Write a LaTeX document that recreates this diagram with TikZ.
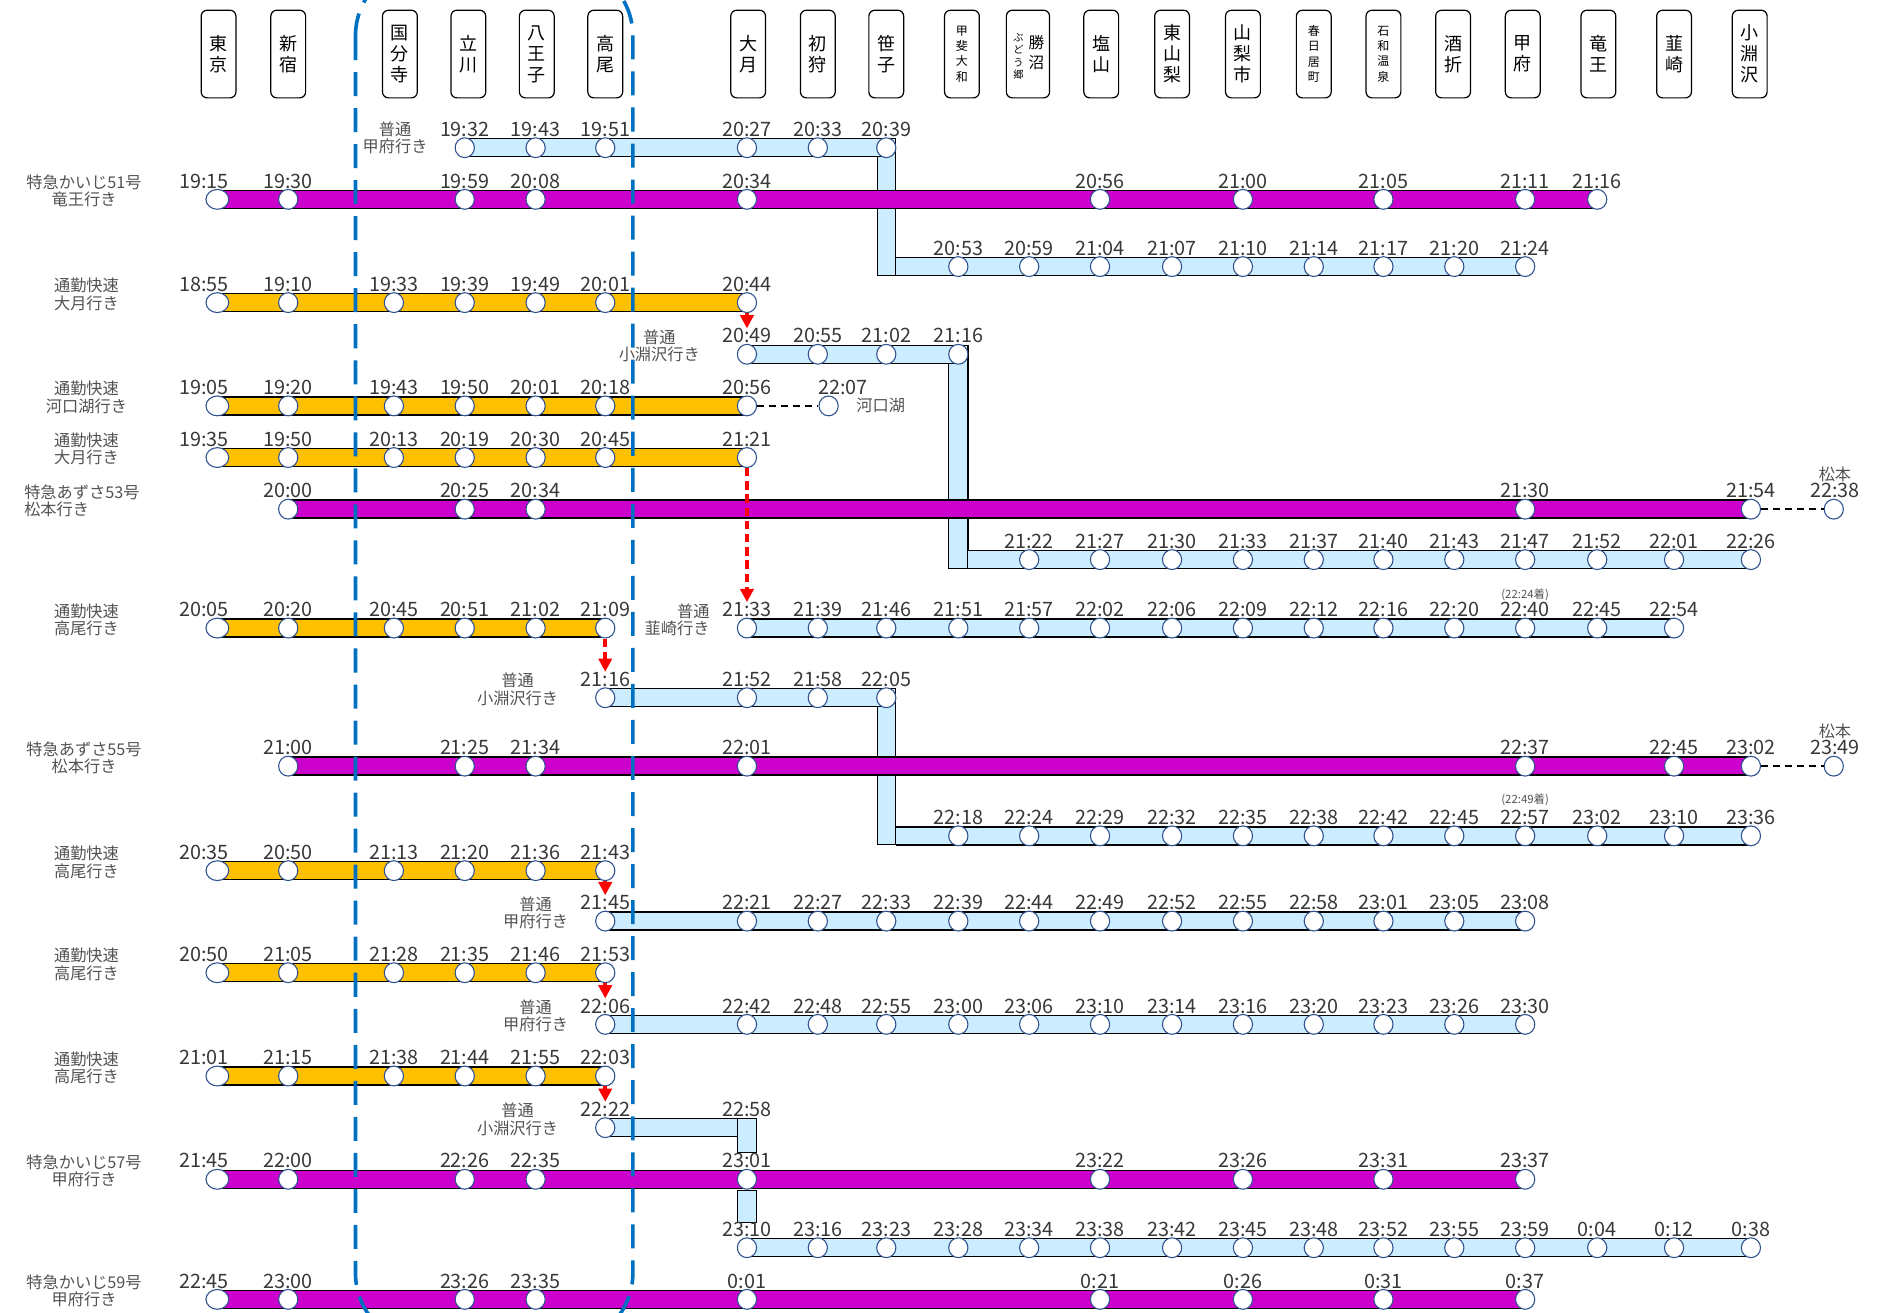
\documentclass[tikz,border=0pt]{standalone}
\usepackage{fontspec}
\setmainfont{Noto Sans CJK JP}
\usetikzlibrary{arrows.meta,shapes.geometric}

\definecolor{kaiji}{HTML}{CC00CC}
\definecolor{rapid}{HTML}{FFC000}
\definecolor{local}{HTML}{CCECFF}
\definecolor{dotline}{HTML}{2F528F}
\definecolor{zone}{HTML}{0070C0}

% one train: the bar
\newcommand\trackbar[4]{%
  \fill[#4] (#2,#1-7.5) rectangle (#3,#1+7.5);
  \draw[barline] (#2,#1-7.5) -- (#3,#1-7.5) (#2,#1+7.5) -- (#3,#1+7.5);}
% one train: the stops with their times
\newcommand\stops[3]{%
  \foreach \x/\hhmm in {#3}{%
    \ifnum\x=181 \def\lx{170}\def\dw{19pt}\else\let\lx\x\def\dw{16pt}\fi
    \node[stopdot, minimum width=\dw] (#1-\x) at (\x,#2) {};
    \node[timelbl] (#1-\x-t) at (\lx,#2-9) {\hhmm};}}

\begin{document}
\begin{tikzpicture}[x=1pt, y=-1pt, >={Triangle[length=11pt,width=11pt]},
	stopdot/.style={ellipse, draw=dotline, line width=0.9pt, fill=white, minimum width=16pt, minimum height=16.5pt, inner sep=0pt},
	timelbl/.style={anchor=south, inner sep=0pt, text=black!78, font=\fontsize{16.5}{19}\selectfont},
	trainlbl/.style={align=center, inner sep=0pt, text=black!68, font=\fontsize{13.5}{14.5}\selectfont},
	notelbl/.style={inner sep=0pt, text=black!68, font=\fontsize{9.5}{11}\selectfont},
	stnbox/.style={draw, line width=1pt, rounded corners=5pt, fill=white, minimum width=29pt, minimum height=73pt, align=center, inner sep=0pt, font=\fontsize{15}{17.5}\selectfont},
	stnsmall/.style={stnbox, font=\fontsize{10}{12.7}\selectfont},
	barline/.style={line width=1.2pt},
	xfer/.style={fill=local, draw=black, line width=1pt},
	xferarrow/.style={->, red, line width=3pt},
	throughline/.style={black, line width=1.8pt, dash pattern=on 6pt off 4pt},
	zoneline/.style={zone, line width=3pt, dash pattern=on 20pt off 10pt, rounded corners=60pt}]
	\useasboundingbox (0,0) rectangle (1568,1093);
	\clip (0,0) rectangle (1568,1093);

	% stations
	\foreach \x/\n/\s in {182/tokyo/東\\京, 240/shinjuku/新\\宿, 333/kokubunji/国\\分\\寺, 390/tachikawa/立\\川,
		447/hachioji/八\\王\\子, 504/takao/高\\尾, 623/otsuki/大\\月, 681/hatsukari/初\\狩, 738/sasago/笹\\子,
		917/enzan/塩\\山, 976/higashiyamanashi/東\\山\\梨, 1035/yamanashishi/山\\梨\\市, 1210/sakaori/酒\\折,
		1268/kofu/甲\\府, 1331/ryuo/竜\\王, 1394/nirasaki/韮\\崎, 1457/kobuchizawa/小\\淵\\沢}
		\node[stnbox] (\n) at (\x,45) {\s};
	\foreach \x/\n/\s in {801/kaiyamato/甲\\斐\\大\\和, 1094/kasugaicho/春\\日\\居\\町, 1152/isawaonsen/石\\和\\温\\泉}
		\node[stnsmall] (\n) at (\x,45) {\s};
	\node[stnbox, minimum width=36pt] (katsunuma) at (856,45) {};
	\node[align=center, inner sep=0pt, font=\fontsize{13}{16.5}\selectfont] (katsunuma-a) at (863,44) {勝\\沼};
	\node[align=center, inner sep=0pt, font=\fontsize{8.5}{10.5}\selectfont] (katsunuma-b) at (848,47) {ぶ\\ど\\う\\郷};

	% transfer links
	\draw[xfer] (731,115.5) rectangle (746,229.5);
	\draw[xfer] (790,287.5) rectangle (806,473.5);
	\draw[xfer] (731,573.5) rectangle (746,703.5);

	% bars
	\trackbar{123}{387}{738}{local}
	\trackbar{222}{746}{1270}{local}
	\trackbar{252}{181}{622}{rapid}
	\trackbar{295}{622}{798}{local}
	\trackbar{338}{181}{622}{rapid}
	\trackbar{381}{181}{622}{rapid}
	\trackbar{466}{806}{1458}{local}
	\trackbar{523}{181}{504}{rapid}
	\trackbar{523}{622}{1394}{local}
	\trackbar{581}{504}{738}{local}
	\trackbar{696}{746}{1458}{local}
	\trackbar{725}{181}{504}{rapid}
	\trackbar{767}{504}{1270}{local}
	\trackbar{810}{181}{504}{rapid}
	\trackbar{853}{504}{1270}{local}
	\trackbar{896}{181}{504}{rapid}
	\trackbar{939}{504}{614}{local}
	\draw[xfer] (614,931.5) rectangle (630,960);
	\draw[xfer] (614,991) rectangle (630,1018);
	\trackbar{1039}{622}{1458}{local}
	\trackbar{166}{181}{1330}{kaiji}
	\trackbar{424}{240}{1458}{kaiji}
	\trackbar{638}{240}{1458}{kaiji}
	\trackbar{982}{181}{1270}{kaiji}
	\trackbar{1082}{181}{1270}{kaiji}

	\draw[zoneline] (296,-30) rectangle (527,1120);

	% stops
	\stops{loc1}{123}{387/19:32, 446/19:43, 504/19:51, 622/20:27, 681/20:33, 738/20:39}
	\stops{loc1b}{222}{798/20:53, 857/20:59, 916/21:04, 976/21:07, 1035/21:10, 1094/21:14, 1152/21:17, 1211/21:20, 1270/21:24}
	\stops{k51}{166}{181/19:15, 240/19:30, 387/19:59, 446/20:08, 622/20:34, 916/20:56, 1035/21:00, 1152/21:05, 1270/21:11, 1330/21:16}
	\stops{com1}{252}{181/18:55, 240/19:10, 328/19:33, 387/19:39, 446/19:49, 504/20:01, 622/20:44}
	\stops{loc2}{295}{622/20:49, 681/20:55, 738/21:02, 798/21:16}
	\stops{loc2b}{466}{857/21:22, 916/21:27, 976/21:30, 1035/21:33, 1094/21:37, 1152/21:40, 1211/21:43, 1270/21:47, 1330/21:52, 1394/22:01, 1458/22:26}
	\stops{com2}{338}{181/19:05, 240/19:20, 328/19:43, 387/19:50, 446/20:01, 504/20:18, 622/20:56}
	\stops{com3}{381}{181/19:35, 240/19:50, 328/20:13, 387/20:19, 446/20:30, 504/20:45, 622/21:21}
	\stops{az53}{424}{240/20:00, 387/20:25, 446/20:34, 1270/21:30, 1458/21:54}
	\stops{com4}{523}{181/20:05, 240/20:20, 328/20:45, 387/20:51, 446/21:02, 504/21:09}
	\stops{loc3}{523}{622/21:33, 681/21:39, 738/21:46, 798/21:51, 857/21:57, 916/22:02, 976/22:06, 1035/22:09, 1094/22:12, 1152/22:16, 1211/22:20, 1270/22:40, 1330/22:45, 1394/22:54}
	\stops{loc4}{581}{504/21:16, 622/21:52, 681/21:58, 738/22:05}
	\stops{loc4b}{696}{798/22:18, 857/22:24, 916/22:29, 976/22:32, 1035/22:35, 1094/22:38, 1152/22:42, 1211/22:45, 1270/22:57, 1330/23:02, 1394/23:10, 1458/23:36}
	\stops{az55}{638}{240/21:00, 387/21:25, 446/21:34, 622/22:01, 1270/22:37, 1394/22:45, 1458/23:02}
	\stops{com5}{725}{181/20:35, 240/20:50, 328/21:13, 387/21:20, 446/21:36, 504/21:43}
	\stops{loc5}{767}{504/21:45, 622/22:21, 681/22:27, 738/22:33, 798/22:39, 857/22:44, 916/22:49, 976/22:52, 1035/22:55, 1094/22:58, 1152/23:01, 1211/23:05, 1270/23:08}
	\stops{com6}{810}{181/20:50, 240/21:05, 328/21:28, 387/21:35, 446/21:46, 504/21:53}
	\stops{loc6}{853}{504/22:06, 622/22:42, 681/22:48, 738/22:55, 798/23:00, 857/23:06, 916/23:10, 976/23:14, 1035/23:16, 1094/23:20, 1152/23:23, 1211/23:26, 1270/23:30}
	\stops{com7}{896}{181/21:01, 240/21:15, 328/21:38, 387/21:44, 446/21:55, 504/22:03}
	\stops{loc7}{939}{504/22:22}
	\node[timelbl] (loc7-622-t) at (622,930) {22:58};
	\stops{k57}{982}{181/21:45, 240/22:00, 387/22:26, 446/22:35, 622/23:01, 916/23:22, 1035/23:26, 1152/23:31, 1270/23:37}
	\stops{loc7b}{1039}{622/23:10, 681/23:16, 738/23:23, 798/23:28, 857/23:34, 916/23:38, 976/23:42, 1035/23:45, 1094/23:48, 1152/23:52, 1211/23:55, 1270/23:59, 1330/0:04, 1394/0:12, 1458/0:38}
	\stops{k59}{1082}{181/22:45, 240/23:00, 387/23:26, 446/23:35, 622/0:01, 916/0:21, 1035/0:26, 1152/0:31, 1270/0:37}
	\node[notelbl] (loc3-note) at (1270,495) {(22:24着)};
	\node[notelbl] (loc4b-note) at (1270,666) {(22:49着)};

	% beyond the last station
	\node[stopdot] (kawaguchiko) at (690,338) {};
	\node[timelbl] (kawaguchiko-t) at (702,329) {22:07};
	\node[trainlbl, anchor=west] (kawaguchiko-n) at (713,338) {河口湖};
	\draw[throughline] (com2-622) -- (kawaguchiko);
	\node[stopdot] (matsumoto53) at (1527,424) {};
	\node[timelbl] (matsumoto53-t) at (1528,415) {22:38};
	\node[trainlbl] (matsumoto53-n) at (1528,395) {松本};
	\draw[throughline] (az53-1458) -- (matsumoto53);
	\node[stopdot] (matsumoto55) at (1527,638) {};
	\node[timelbl] (matsumoto55-t) at (1528,629) {23:49};
	\node[trainlbl] (matsumoto55-n) at (1528,609) {松本};
	\draw[throughline] (az55-1458) -- (matsumoto55);

	% connections
	\draw[xferarrow] (com1-622.south) -- (loc2-622-t.north);
	\draw[xferarrow, dash pattern=on 7pt off 4pt] (com3-622.south) -- (loc3-622-t.north);
	\draw[xferarrow, dash pattern=on 7pt off 4pt] (com4-504.south) -- (loc4-504-t.north);
	\draw[xferarrow] (com5-504.south) -- (loc5-504-t.north);
	\draw[xferarrow] (com6-504.south) -- (loc6-504-t.north);
	\draw[xferarrow] (com7-504.south) -- (loc7-504-t.north);

	% train names
	\node[trainlbl] (loc1-n) at (329,115) {普通\\甲府行き};
	\node[trainlbl] (k51-n) at (70,159) {特急かいじ51号\\竜王行き};
	\node[trainlbl] (com1-n) at (72,245) {通勤快速\\大月行き};
	\node[trainlbl] (loc2-n) at (549,288) {普通\\小淵沢行き};
	\node[trainlbl] (com2-n) at (72,331) {通勤快速\\河口湖行き};
	\node[trainlbl] (com3-n) at (72,374) {通勤快速\\大月行き};
	\node[trainlbl, align=left, anchor=west] (az53-n) at (20,417) {特急あずさ53号\\松本行き};
	\node[trainlbl] (com4-n) at (72,516) {通勤快速\\高尾行き};
	\node[trainlbl, align=right, anchor=east] (loc3-n) at (591,516) {普通\\韮崎行き};
	\node[trainlbl] (loc4-n) at (431,574) {普通\\小淵沢行き};
	\node[trainlbl] (az55-n) at (70,631) {特急あずさ55号\\松本行き};
	\node[trainlbl] (com5-n) at (72,718) {通勤快速\\高尾行き};
	\node[trainlbl] (loc5-n) at (446,760) {普通\\甲府行き};
	\node[trainlbl] (com6-n) at (72,803) {通勤快速\\高尾行き};
	\node[trainlbl] (loc6-n) at (446,846) {普通\\甲府行き};
	\node[trainlbl] (com7-n) at (72,889) {通勤快速\\高尾行き};
	\node[trainlbl] (loc7-n) at (431,932) {普通\\小淵沢行き};
	\node[trainlbl] (k57-n) at (70,975) {特急かいじ57号\\甲府行き};
	\node[trainlbl] (k59-n) at (70,1075) {特急かいじ59号\\甲府行き};
\end{tikzpicture}
\end{document}
